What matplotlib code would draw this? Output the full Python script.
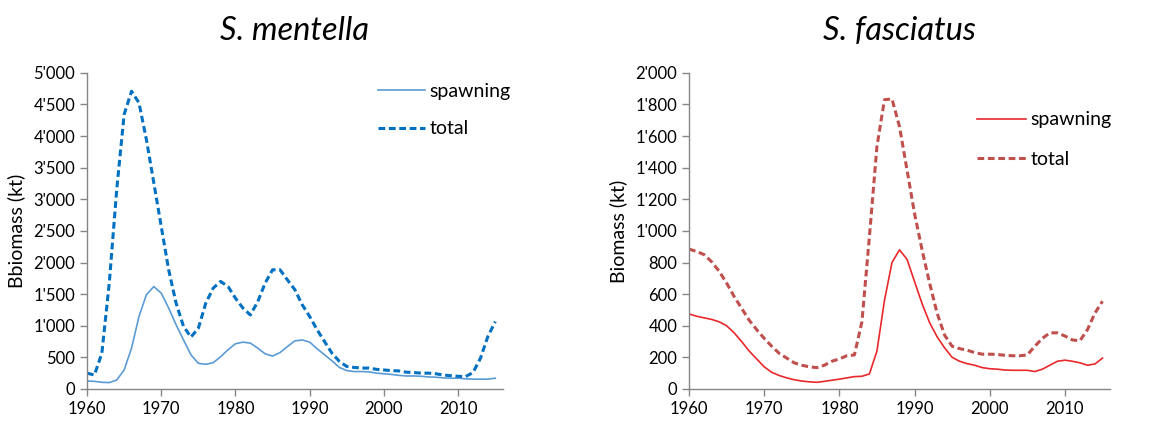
import matplotlib
matplotlib.use("Agg")
import matplotlib.pyplot as plt
from matplotlib.ticker import FuncFormatter

years = list(range(1960, 2016))

# S. mentella (kt)
mentella_spawning = [125, 120, 105, 100, 140, 300, 645, 1145, 1490, 1620,
                     1515, 1280, 1015, 775, 540, 405, 390, 415, 510, 620,
                     715, 740, 725, 645, 555, 520, 575, 670, 760, 775,
                     740, 635, 540, 445, 340, 290, 275, 275, 270, 250,
                     240, 230, 215, 205, 205, 200, 190, 185, 175, 170,
                     170, 160, 155, 155, 155, 170]
mentella_total = [250, 220, 565, 1675, 3150, 4340, 4710, 4525, 3945, 3260,
                  2570, 1885, 1357, 990, 820, 960, 1357, 1595, 1700, 1620,
                  1435, 1280, 1170, 1380, 1675, 1885, 1885, 1725, 1570, 1330,
                  1145, 935, 750, 565, 435, 355, 340, 330, 330, 310,
                  300, 290, 285, 265, 260, 250, 250, 240, 220, 210,
                  200, 195, 260, 485, 830, 1065]

# S. fasciatus (kt)
fasciatus_spawning = [475, 460, 450, 440, 425, 400, 355, 300, 240, 190,
                      140, 105, 85, 70, 58, 50, 45, 42, 48, 55,
                      62, 70, 78, 80, 95, 240, 560, 800, 880, 820,
                      680, 540, 420, 330, 260, 200, 175, 160, 150, 135,
                      128, 125, 120, 118, 118, 118, 110, 125, 150, 175,
                      182, 175, 165, 150, 158, 195]
fasciatus_total = [885, 870, 850, 805, 745, 670, 585, 510, 435, 375,
                   320, 270, 225, 195, 165, 150, 140, 135, 150, 175,
                   190, 210, 215, 425, 965, 1535, 1830, 1835, 1660, 1385,
                   1110, 880, 670, 480, 340, 270, 255, 245, 230, 220,
                   220, 218, 213, 210, 210, 215, 270, 320, 355, 355,
                   335, 310, 305, 375, 480, 555]

plt.rcParams['font.family'] = ['Lato', 'DejaVu Sans']


def fmt(v, pos):
    return f"{int(v):,}".replace(",", "'")


def style_axes(ax, ymax, ystep, ylabel, title):
    ax.set_xlim(1960, 2016)
    ax.set_ylim(0, ymax)
    ax.set_xticks(range(1960, 2011, 10))
    ax.set_yticks(range(0, ymax + 1, ystep))
    ax.yaxis.set_major_formatter(FuncFormatter(fmt))
    for s in ['top', 'right']:
        ax.spines[s].set_visible(False)
    for s in ['left', 'bottom']:
        ax.spines[s].set_color('#868686')
        ax.spines[s].set_linewidth(1.0)
    ax.tick_params(colors='#868686', labelcolor='black', labelsize=12,
                   length=5, width=1.0)
    ax.set_ylabel(ylabel, fontsize=14, labelpad=6)
    ax.set_title(title, fontsize=23.5, style='italic', pad=24)


fig = plt.figure(figsize=(11.71, 4.26), dpi=100)
ax1 = fig.add_axes([0.0743, 0.087, 0.355, 0.742])
ax2 = fig.add_axes([0.5884, 0.087, 0.3595, 0.742])

ax1.plot(years, mentella_spawning, color='#5B9BD5', lw=1.2, label='spawning')
ax1.plot(years, mentella_total, color='#0070C0', lw=2.2, ls=(0, (2.2, 1.2)), label='total')
style_axes(ax1, 5000, 500, 'Bbiomass (kt)', 'S. mentella')
ax1.legend(loc='upper left', bbox_to_anchor=(0.70, 0.968), frameon=False,
           borderpad=0, borderaxespad=0, fontsize=14, handlelength=2.4,
           handletextpad=0.25, labelspacing=1.05)

ax2.plot(years, fasciatus_spawning, color='#E8282B', lw=1.2, label='spawning')
ax2.plot(years, fasciatus_total, color='#C0504D', lw=2.2, ls=(0, (2.2, 1.2)), label='total')
style_axes(ax2, 2000, 200, 'Biomass (kt)', 'S. fasciatus')
ax2.legend(loc='upper left', bbox_to_anchor=(0.684, 0.878), frameon=False,
           borderpad=0, borderaxespad=0, fontsize=14, handlelength=2.5,
           handletextpad=0.25, labelspacing=1.15)

fig.savefig('out.png', dpi=100)
